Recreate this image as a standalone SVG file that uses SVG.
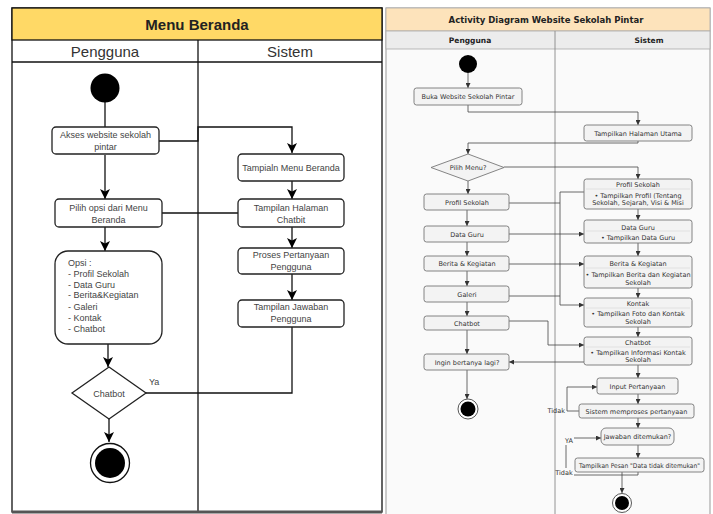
<svg xmlns="http://www.w3.org/2000/svg" width="713" height="514" viewBox="0 0 713 514">
<style>
.lt{font-family:"Liberation Sans",Arial,sans-serif;fill:#444;font-size:9px}
.lbox{fill:#fff;stroke:#222;stroke-width:1.3}
.lc{fill:none;stroke:#111;stroke-width:1.3}
.rt{font-family:"DejaVu Sans",Verdana,sans-serif;fill:#333;font-size:6.5px}
.rbox{fill:#f3f3f3;stroke:#777;stroke-width:0.9}
.rc{fill:none;stroke:#444;stroke-width:0.8}
.sep{stroke:#ccc;stroke-width:0.5}
</style>
<defs>
<marker id="al" viewBox="0 0 10 10" refX="10" refY="5" markerWidth="10" markerHeight="11" orient="auto" markerUnits="userSpaceOnUse"><path d="M0,0 L10,5 L0,10 L2.5,5 z" fill="#000"/></marker>
<marker id="ar" viewBox="0 0 10 10" refX="10" refY="5" markerWidth="5" markerHeight="5" orient="auto" markerUnits="userSpaceOnUse"><path d="M0,0 L10,5 L0,10 z" fill="#333"/></marker>
</defs>
<rect width="713" height="514" fill="#fff"/>

<!-- LEFT DIAGRAM -->
<g id="left-frame">
<rect x="12" y="8" width="370" height="504" fill="#fff" stroke="#111" stroke-width="1.3"/>
<rect x="12" y="8" width="370" height="32" fill="#ffd966" stroke="#111" stroke-width="1.3"/>
<text x="197" y="30" text-anchor="middle" font-family="Liberation Sans,Arial,sans-serif" font-weight="bold" font-size="15" fill="#222">Menu Beranda</text>
<line x1="12" y1="62" x2="382" y2="62" stroke="#111" stroke-width="1.3"/>
<line x1="198" y1="40" x2="198" y2="512" stroke="#111" stroke-width="1.3"/>
<line x1="12" y1="512" x2="382" y2="512" stroke="#555" stroke-width="3"/>
<text x="105" y="57" text-anchor="middle" font-family="Liberation Sans,Arial,sans-serif" font-size="15" fill="#333">Pengguna</text>
<text x="290" y="57" text-anchor="middle" font-family="Liberation Sans,Arial,sans-serif" font-size="15" fill="#333">Sistem</text>
</g>

<g id="l-connectors">
<path class="lc" d="M105,102 V127"/>
<path class="lc" d="M159,141 H198 V127 H292 V153" marker-end="url(#al)"/>
<path class="lc" d="M105,155 V199" marker-end="url(#al)"/>
<path class="lc" d="M162,213 H238"/>
<path class="lc" d="M292,181 V199" marker-end="url(#al)"/>
<path class="lc" d="M292,227 V248" marker-end="url(#al)"/>
<path class="lc" d="M292,274 V300" marker-end="url(#al)"/>
<path class="lc" d="M105,227 V251" marker-end="url(#al)"/>
<path class="lc" d="M108,344 V367" marker-end="url(#al)"/>
<path class="lc" d="M292,327 V393 H146"/>
<path class="lc" d="M109,419 V442" marker-end="url(#al)"/>
<text class="lt" x="149" y="385" font-size="10.5">Ya</text>
</g>

<g id="l-start"><circle cx="105" cy="88" r="14.5" fill="#000"/></g>
<g id="l-akses">
<rect class="lbox" x="52" y="127" width="107" height="27" rx="4"/>
<text class="lt" x="105.5" y="138" text-anchor="middle">Akses website sekolah</text>
<text class="lt" x="105.5" y="150" text-anchor="middle">pintar</text>
</g>
<g id="l-pilih">
<rect class="lbox" x="55" y="199" width="107" height="28" rx="4"/>
<text class="lt" x="108.5" y="211" text-anchor="middle">Pilih opsi dari Menu</text>
<text class="lt" x="108.5" y="223" text-anchor="middle">Beranda</text>
</g>
<g id="l-opsi">
<rect class="lbox" x="55" y="251" width="107" height="93" rx="13"/>
<text class="lt" x="68" y="266">Opsi :</text>
<text class="lt" x="68" y="277">- Profil Sekolah</text>
<text class="lt" x="68" y="288">- Data Guru</text>
<text class="lt" x="68" y="298">- Berita&amp;Kegiatan</text>
<text class="lt" x="68" y="310">- Galeri</text>
<text class="lt" x="68" y="321">- Kontak</text>
<text class="lt" x="68" y="332">- Chatbot</text>
</g>
<g id="l-diamond">
<polygon points="109,367 146,393 109,419 72,393" fill="#fff" stroke="#222" stroke-width="1.3"/>
<text class="lt" x="109" y="397" text-anchor="middle" font-size="10.5">Chatbot</text>
</g>
<g id="l-end">
<circle cx="110" cy="463" r="19.5" fill="#fff" stroke="#111" stroke-width="1.3"/>
<circle cx="110" cy="463" r="15" fill="#000"/>
</g>
<g id="l-tampialn">
<rect class="lbox" x="238" y="154" width="106" height="27" rx="4"/>
<text class="lt" x="291" y="171" text-anchor="middle">Tampialn Menu Beranda</text>
</g>
<g id="l-halaman">
<rect class="lbox" x="238" y="199" width="106" height="28" rx="4"/>
<text class="lt" x="291" y="211" text-anchor="middle">Tampilan Halaman</text>
<text class="lt" x="291" y="223" text-anchor="middle">Chatbit</text>
</g>
<g id="l-proses">
<rect class="lbox" x="238" y="248" width="106" height="26" rx="4"/>
<text class="lt" x="291" y="258" text-anchor="middle">Proses Pertanyaan</text>
<text class="lt" x="291" y="270" text-anchor="middle">Pengguna</text>
</g>
<g id="l-jawaban">
<rect class="lbox" x="238" y="300" width="106" height="27" rx="4"/>
<text class="lt" x="291" y="310" text-anchor="middle">Tampilan Jawaban</text>
<text class="lt" x="291" y="322" text-anchor="middle">Pengguna</text>
</g>

<!-- RIGHT DIAGRAM -->
<g id="right-frame">
<rect x="386" y="8" width="324" height="510" fill="#fafafa" stroke="#999" stroke-width="1"/>
<rect x="386" y="8" width="324" height="23" fill="#fde3bb" stroke="#aaa" stroke-width="0.8"/>
<rect x="386" y="31" width="324" height="18" fill="#ececec" stroke="#aaa" stroke-width="0.8"/>
<text x="546" y="23" text-anchor="middle" font-family="DejaVu Sans,Verdana,sans-serif" font-weight="bold" font-size="8.5" fill="#222">Activity Diagram Website Sekolah Pintar</text>
<text x="470" y="43" text-anchor="middle" font-family="DejaVu Sans,Verdana,sans-serif" font-weight="bold" font-size="7.5" fill="#222">Pengguna</text>
<text x="649" y="43" text-anchor="middle" font-family="DejaVu Sans,Verdana,sans-serif" font-weight="bold" font-size="7.5" fill="#222">Sistem</text>
<line x1="555" y1="31" x2="555" y2="514" stroke="#888" stroke-width="0.9"/>
</g>

<g id="r-connectors">
<path class="rc" d="M468,73 V88" marker-end="url(#ar)"/>
<path class="rc" d="M468,105 V112 H638 V125" marker-end="url(#ar)"/>
<path class="rc" d="M638,141 V143 H468 V154" marker-end="url(#ar)"/>
<path class="rc" d="M504,167 H638 V179" marker-end="url(#ar)"/>
<path class="rc" d="M468,181 V194" marker-end="url(#ar)"/>
<path class="rc" d="M467,210 V226" marker-end="url(#ar)"/>
<path class="rc" d="M467,242 V256" marker-end="url(#ar)"/>
<path class="rc" d="M467,271 V286" marker-end="url(#ar)"/>
<path class="rc" d="M467,302 V316" marker-end="url(#ar)"/>
<path class="rc" d="M467,330 V354" marker-end="url(#ar)"/>
<path class="rc" d="M467,370 V399" marker-end="url(#ar)"/>
<path class="rc" d="M509,203 H560"/>
<path class="rc" d="M509,296 H560"/>
<path class="rc" d="M584,192 H560 V305 H584" marker-end="url(#ar)"/>
<path class="rc" d="M509,234 H584" marker-end="url(#ar)"/>
<path class="rc" d="M509,264 H584" marker-end="url(#ar)"/>
<path class="rc" d="M509,321 H548 V345 H584" marker-end="url(#ar)"/>
<path class="rc" d="M584,362 H509" marker-end="url(#ar)"/>
<path class="rc" d="M638,209 V220" marker-end="url(#ar)"/>
<path class="rc" d="M638,243 V256" marker-end="url(#ar)"/>
<path class="rc" d="M638,288 V298" marker-end="url(#ar)"/>
<path class="rc" d="M638,327 V337" marker-end="url(#ar)"/>
<path class="rc" d="M638,365 V378" marker-end="url(#ar)"/>
<path class="rc" d="M638,394 V404" marker-end="url(#ar)"/>
<path class="rc" d="M638,418 V428" marker-end="url(#ar)"/>
<path class="rc" d="M638,445 V458" marker-end="url(#ar)"/>
<path class="rc" d="M579,411 H567 V387 H597" marker-end="url(#ar)"/>
<path class="rc" d="M638,472 V475 H574"/>
<path class="rc" d="M566,468 V445"/>
<path class="rc" d="M574,438 H601" marker-end="url(#ar)"/>
<path class="rc" d="M622,472 V493" marker-end="url(#ar)"/>
<text class="rt" x="565" y="413" text-anchor="end" font-size="6">Tidak</text>
<text class="rt" x="569" y="443" text-anchor="middle" font-size="6">YA</text>
<text class="rt" x="564" y="475" text-anchor="middle" font-size="6">Tidak</text>
</g>

<g id="r-start"><circle cx="468" cy="64" r="9" fill="#000"/></g>
<g id="r-buka">
<rect class="rbox" x="414" y="88" width="108" height="17" rx="2.5"/>
<text class="rt" x="468" y="98.5" text-anchor="middle" font-size="6.3">Buka Website Sekolah Pintar</text>
</g>
<g id="r-utama">
<rect class="rbox" x="584" y="125" width="108" height="16" rx="2.5"/>
<text class="rt" x="638" y="135.5" text-anchor="middle">Tampilkan Halaman Utama</text>
</g>
<g id="r-pilihmenu">
<polygon points="468,154 504,167.5 468,181 431,167.5" fill="#f3f3f3" stroke="#777" stroke-width="0.9"/>
<text class="rt" x="468" y="170" text-anchor="middle">Pilih Menu?</text>
</g>
<g id="r-u-profil">
<rect class="rbox" x="424" y="194" width="85" height="16" rx="2.5"/>
<text class="rt" x="467" y="204.5" text-anchor="middle">Profil Sekolah</text>
</g>
<g id="r-u-data">
<rect class="rbox" x="424" y="226" width="85" height="16" rx="2.5"/>
<text class="rt" x="467" y="236.5" text-anchor="middle">Data Guru</text>
</g>
<g id="r-u-berita">
<rect class="rbox" x="424" y="256" width="85" height="15" rx="2.5"/>
<text class="rt" x="467" y="266" text-anchor="middle">Berita &amp; Kegiatan</text>
</g>
<g id="r-u-galeri">
<rect class="rbox" x="424" y="286" width="85" height="16" rx="2.5"/>
<text class="rt" x="467" y="296.5" text-anchor="middle">Galeri</text>
</g>
<g id="r-u-chatbot">
<rect class="rbox" x="424" y="316" width="85" height="14" rx="2.5"/>
<text class="rt" x="467" y="325.5" text-anchor="middle">Chatbot</text>
</g>
<g id="r-u-ingin">
<rect class="rbox" x="424" y="354" width="85" height="16" rx="2.5"/>
<text class="rt" x="467" y="364.5" text-anchor="middle">Ingin bertanya lagi?</text>
</g>
<g id="r-u-end">
<circle cx="468" cy="409" r="10" fill="#fff" stroke="#444" stroke-width="0.9"/>
<circle cx="468" cy="409" r="7.5" fill="#000"/>
</g>
<g id="r-s-profil">
<rect class="rbox" x="584" y="179" width="108" height="30" rx="2.5"/>
<line class="sep" x1="586" y1="189" x2="690" y2="189"/>
<text class="rt" x="638" y="186.5" text-anchor="middle">Profil Sekolah</text>
<text class="rt" x="638" y="197.5" text-anchor="middle" font-size="6.3">• Tampilkan Profil (Tentang</text>
<text class="rt" x="638" y="204.8" text-anchor="middle" font-size="6.3">Sekolah, Sejarah, Visi &amp; Misi</text>
</g>
<g id="r-s-data">
<rect class="rbox" x="584" y="220" width="108" height="23" rx="2.5"/>
<line class="sep" x1="586" y1="231" x2="690" y2="231"/>
<text class="rt" x="638" y="229.5" text-anchor="middle">Data Guru</text>
<text class="rt" x="638" y="239.5" text-anchor="middle">• Tampilkan Data Guru</text>
</g>
<g id="r-s-berita">
<rect class="rbox" x="584" y="256" width="108" height="32" rx="2.5"/>
<line class="sep" x1="586" y1="268" x2="690" y2="268"/>
<text class="rt" x="638" y="265.5" text-anchor="middle">Berita &amp; Kegiatan</text>
<text class="rt" x="638" y="276.5" text-anchor="middle" font-size="6.2">• Tampilkan Berita dan Kegiatan</text>
<text class="rt" x="638" y="284.5" text-anchor="middle" font-size="6.2">Sekolah</text>
</g>
<g id="r-s-kontak">
<rect class="rbox" x="584" y="298" width="108" height="29" rx="2.5"/>
<line class="sep" x1="586" y1="308" x2="690" y2="308"/>
<text class="rt" x="638" y="305.5" text-anchor="middle">Kontak</text>
<text class="rt" x="638" y="315.5" text-anchor="middle">• Tampilkan Foto dan Kontak</text>
<text class="rt" x="638" y="323.5" text-anchor="middle">Sekolah</text>
</g>
<g id="r-s-chatbot">
<rect class="rbox" x="584" y="337" width="108" height="28" rx="2.5"/>
<line class="sep" x1="586" y1="347" x2="690" y2="347"/>
<text class="rt" x="638" y="344.5" text-anchor="middle">Chatbot</text>
<text class="rt" x="638" y="354.5" text-anchor="middle">• Tampilkan Informasi Kontak</text>
<text class="rt" x="638" y="361.8" text-anchor="middle">Sekolah</text>
</g>
<g id="r-s-input">
<rect class="rbox" x="597" y="378" width="81" height="16" rx="2.5"/>
<text class="rt" x="637.5" y="388.5" text-anchor="middle">Input Pertanyaan</text>
</g>
<g id="r-s-proses">
<rect class="rbox" x="579" y="404" width="115" height="14" rx="2.5"/>
<text class="rt" x="636.5" y="413.5" text-anchor="middle" font-size="7">Sistem memproses pertanyaan</text>
</g>
<g id="r-s-jawaban">
<rect class="rbox" x="601" y="428" width="73" height="17" rx="5"/>
<text class="rt" x="637.5" y="439" text-anchor="middle" font-size="6.3">Jawaban ditemukan?</text>
</g>
<g id="r-s-pesan">
<rect class="rbox" x="575" y="458" width="129" height="14" rx="2.5"/>
<text class="rt" x="579" y="467.5" font-size="6" textLength="121" lengthAdjust="spacingAndGlyphs">Tampilkan Pesan "Data tidak ditemukan"</text>
</g>
<g id="r-s-end">
<circle cx="622" cy="503" r="9.5" fill="#fff" stroke="#444" stroke-width="0.9"/>
<circle cx="622" cy="503" r="7" fill="#000"/>
</g>
</svg>
